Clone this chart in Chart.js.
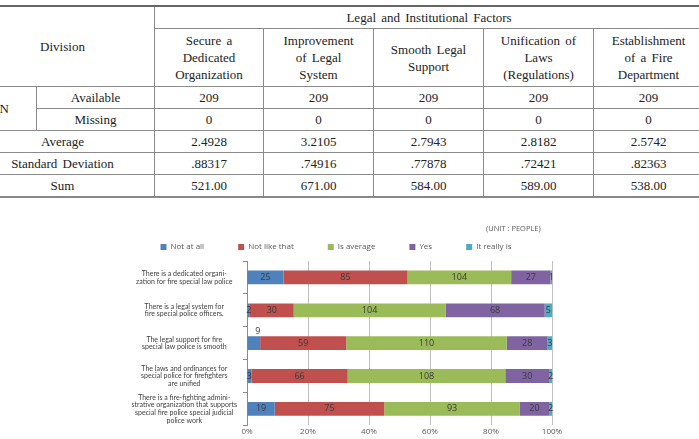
<!DOCTYPE html>
<html>
<head>
<meta charset="utf-8">
<script src="https://cdn.jsdelivr.net/npm/chart.js@4.4.1/dist/chart.umd.min.js"></script>
<style>
  body { margin: 0; width: 699px; height: 439px; overflow: hidden; background: #fff; position: relative; }
  #tbl { position: absolute; left: -30px; top: 5px; width: 733px; border-collapse: collapse; table-layout: fixed;
         font-family: "Liberation Serif", "DejaVu Serif", serif; font-size: 13px; color: #222; word-spacing: 2px; }
  #tbl td, #tbl th { border: 1px solid #8a8a8a; text-align: center; font-weight: normal; padding: 0; height: 21px; }
  #tbl tr:first-child th { border-top: 2px solid #666; }
  #tbl tr:last-child td { border-bottom: 2px solid #888; }
  #tbl .hdr th { height: 57px; line-height: 17px; }
  #wrap { position: absolute; left: 120px; top: 210px; width: 450px; height: 229px; }
</style>
</head>
<body>
<table id="tbl">
  <colgroup>
    <col style="width:66px"><col style="width:118px">
    <col style="width:109px"><col style="width:110px"><col style="width:110px"><col style="width:110px"><col style="width:110px">
  </colgroup>
  <tbody id="tb"></tbody>
</table>
<div id="wrap"><canvas id="grafico"></canvas></div>
<script>
// tabla de estadisticos
var columnas = ["Secure a<br>Dedicated<br>Organization", "Improvement<br>of Legal<br>System", "Smooth Legal<br>Support",
                "Unification of<br>Laws<br>(Regulations)", "Establishment<br>of a Fire<br>Department"];
var disponibles = ["209", "209", "209", "209", "209"];
var perdidos = ["0", "0", "0", "0", "0"];
var promedios = ["2.4928", "3.2105", "2.7943", "2.8182", "2.5742"];
var desviaciones = [".88317", ".74916", ".77878", ".72421", ".82363"];
var sumas = ["521.00", "671.00", "584.00", "589.00", "538.00"];

// grafico (personas)
var etiquetas = [
    ["There is a dedicated organi-", "zation for fire special law police"],
    ["There is a legal system for", "fire special police officers."],
    ["The legal support for fire", "special law police is smooth"],
    ["The laws and ordinances for", "special police for firefighters", "are unified"],
    ["There is a fire-fighting admini-", "strative organization that supports", "special fire police special judicial", "police work"]
];
var series = ["Not at all", "Not like that", "Is average", "Yes", "It really is"];
var nadaDeAcuerdo = [25, 2, 9, 3, 19];
var noAsi = [85, 30, 59, 66, 75];
var promedio = [71, 104, 110, 108, 93];
var si = [27, 68, 28, 30, 20];
var realmente = [1, 5, 3, 2, 2];
// la figura original imprime 104 en la primera barra verde
var textoImpreso = { "2-0": "104" };
var ticksX = [0, 20, 40, 60, 80, 100];

var colores = ["#4F81BD", "#C0504D", "#9BBB59", "#8064A2", "#4BACC6"];

function fila(celdas) {
    return "<tr>" + celdas.map(function (c) { return "<td>" + c + "</td>"; }).join("") + "</tr>";
}
var html = '<tr><th rowspan="2" colspan="2">Division</th><th colspan="5">Legal and Institutional Factors</th></tr>';
html += '<tr class="hdr">' + columnas.map(function (c) { return "<th>" + c + "</th>"; }).join("") + "</tr>";
html += '<tr><td rowspan="2" style="text-align:right;padding-right:27px">N</td><td>Available</td>' +
        disponibles.map(function (c) { return "<td>" + c + "</td>"; }).join("") + "</tr>";
html += fila(["Missing"].concat(perdidos));
html += '<tr><td colspan="2">Average</td>' + promedios.map(function (c) { return "<td>" + c + "</td>"; }).join("") + "</tr>";
html += '<tr><td colspan="2">Standard Deviation</td>' + desviaciones.map(function (c) { return "<td>" + c + "</td>"; }).join("") + "</tr>";
html += '<tr><td colspan="2">Sum</td>' + sumas.map(function (c) { return "<td>" + c + "</td>"; }).join("") + "</tr>";
document.getElementById("tb").innerHTML = html;

var valores = [nadaDeAcuerdo, noAsi, promedio, si, realmente];
var totales = etiquetas.map(function (e, i) {
    return valores.reduce(function (s, v) { return s + v[i]; }, 0);
});

var datasets = valores.map(function (v, k) {
    return {
        label: series[k],
        data: v.map(function (x, i) { return x / totales[i] * 100; }),
        crudos: v,
        backgroundColor: colores[k],
        barPercentage: 0.42,
        categoryPercentage: 1
    };
});

// etiquetas sobre las barras
var etiquetasBarras = {
    id: "etiquetasBarras",
    afterDatasetsDraw: function (chart) {
        var ctx = chart.ctx;
        ctx.save();
        ctx.font = "9px 'Open Sans', sans-serif";
        ctx.fillStyle = "#3a3a3a";
        ctx.textAlign = "center";
        ctx.textBaseline = "middle";
        chart.data.datasets.forEach(function (ds, k) {
            chart.getDatasetMeta(k).data.forEach(function (bar, i) {
                var txt = textoImpreso[k + "-" + i] || String(ds.crudos[i]);
                var x = (bar.x + bar.base) / 2;
                var y = bar.y;
                if (k === 0 && ds.crudos[i] === 9) { x += 4; y -= 12; }
                ctx.fillText(txt, x, y);
            });
        });
        ctx.restore();
    }
};

// espacio extra entre elementos de la leyenda (como en Excel)
var hueco = "\u2002\u2002\u2002\u2002\u2002\u2002\u2002";

const ctx = document.getElementById("grafico").getContext("2d");
const grafico = new Chart(ctx, {
    type: "bar",
    data: { labels: etiquetas, datasets: datasets },
    plugins: [etiquetasBarras],
    options: {
        indexAxis: "y",
        responsive: true,
        maintainAspectRatio: false,
        animation: false,
        layout: { padding: { left: 0, right: 18, top: 0, bottom: 0 } },
        plugins: {
            title: {
                display: true,
                text: "(UNIT : PEOPLE)\u2002\u2002\u2002",
                align: "end",
                color: "#595959",
                font: { family: "'Open Sans', sans-serif", size: 7.5, weight: "normal" },
                padding: { top: 14, bottom: 4 }
            },
            legend: {
                position: "top",
                labels: {
                    boxWidth: 6, boxHeight: 6, padding: 6,
                    color: "#595959",
                    font: { family: "'Open Sans', sans-serif", size: 8 },
                    generateLabels: function (chart) {
                        return chart.data.datasets.map(function (ds, k) {
                            return {
                                text: k < chart.data.datasets.length - 1 ? ds.label + hueco : ds.label,
                                fillStyle: ds.backgroundColor,
                                strokeStyle: ds.backgroundColor,
                                lineWidth: 0,
                                fontColor: "#595959",
                                hidden: false,
                                datasetIndex: k
                            };
                        });
                    }
                }
            },
            tooltip: { enabled: false }
        },
        scales: {
            x: {
                stacked: true,
                min: 0, max: 100,
                afterBuildTicks: function (scale) {
                    scale.ticks = ticksX.map(function (v) { return { value: v }; });
                },
                ticks: {
                    callback: function (v) { return v + "%"; },
                    color: "#595959",
                    font: { family: "'Open Sans', sans-serif", size: 8 },
                    padding: 2
                },
                grid: { color: "#bfbfbf", drawTicks: false },
                border: { display: false }
            },
            y: {
                stacked: true,
                afterFit: function (scale) { scale.width = 127; },
                ticks: {
                    autoSkip: false,
                    crossAlign: "center",
                    color: "#404040",
                    font: { family: "Lato, sans-serif", size: 7, lineHeight: 1.1 },
                    padding: 6
                },
                grid: { drawOnChartArea: false, tickLength: 4, color: "#8c8c8c" },
                border: { color: "#8c8c8c" }
            }
        }
    }
});
</script>
</body>
</html>
